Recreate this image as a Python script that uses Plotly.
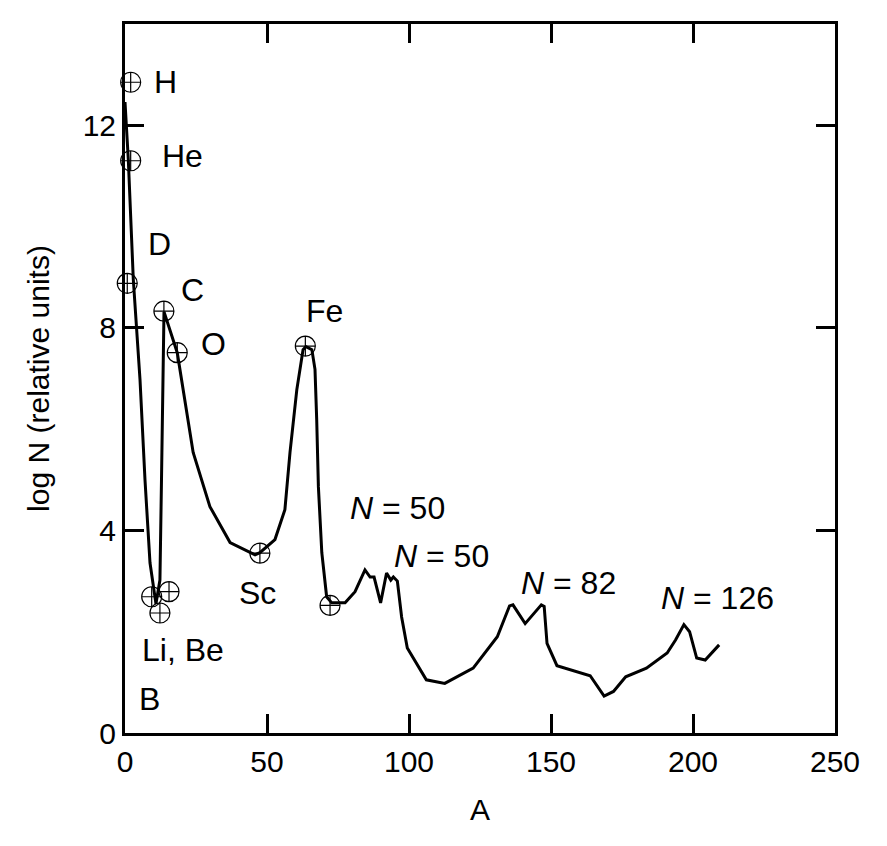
import plotly.graph_objects as go

# Abundance curve (A, log N)
curve_A = [0, 1.16, 2.92, 5.28, 7.04, 8.80, 10.9, 12.3, 12.85, 13.27, 13.73,
           18.4, 24.0, 29.9, 37.0, 45.8, 47.5, 52.8, 56.3, 58.1, 60.5, 62.7,
           63.7, 65.8, 66.9, 67.5, 68.1, 69.3, 71.0, 72.8, 77.5, 81.0, 84.5,
           86.3, 87.7, 90.0, 92.1, 93.6, 94.5, 95.9, 97.4, 99.4, 106.1, 112.6,
           122.6, 131.1, 135.4, 136.6, 140.9, 146.6, 147.6, 148.6, 152.1,
           163.8, 168.7, 172.0, 176.3, 183.6, 190.9, 193.9, 196.8, 198.8,
           201.3, 204.3, 209.2]
curve_logN = [12.46, 11.33, 8.96, 6.98, 5.00, 3.36, 2.55, 3.02, 5.00, 6.98, 8.32,
              7.51, 5.54, 4.47, 3.76, 3.52, 3.56, 3.82, 4.41, 5.54, 6.78, 7.57,
              7.63, 7.57, 7.18, 6.19, 4.86, 3.56, 2.69, 2.57, 2.57, 2.79, 3.22,
              3.08, 3.08, 2.57, 3.16, 3.02, 3.08, 3.00, 2.29, 1.68, 1.05, 0.98,
              1.28, 1.90, 2.51, 2.53, 2.16, 2.53, 2.50, 1.77, 1.33,
              1.13, 0.73, 0.82, 1.11, 1.28, 1.58, 1.84, 2.14, 2.00,
              1.48, 1.44, 1.74]

# Marked nuclides
marker_A = [2.0, 2.0, 0.8, 13.7, 18.4, 63.5, 47.5, 72.2, 9.4, 15.5, 12.3]
marker_logN = [12.85, 11.30, 8.88, 8.33, 7.51, 7.64, 3.55, 2.52, 2.69, 2.79, 2.37]

# Text labels
label_text = ["H", "He", "D", "C", "O", "Fe", "Sc", "Li, Be", "B",
              "<i>N</i> = 50", "<i>N</i> = 50", "<i>N</i> = 82", "<i>N</i> = 126"]
label_A = [14.1, 20.4, 12.0, 23.9, 31.0, 70.1, 46.8, 20.4, 8.8,
           95.8, 111.6, 156.3, 208.8]
label_logN = [12.85, 11.39, 9.65, 8.74, 7.69, 8.34, 2.77, 1.64, 0.67,
              4.45, 3.50, 2.97, 2.67]

x_ticks = [0, 50, 100, 150, 200, 250]
y_ticks = [0, 4, 8, 12]

FONT = "Liberation Sans, Arial, Helvetica, sans-serif"

fig = go.Figure()
fig.add_trace(go.Scatter(
    x=curve_A, y=curve_logN, mode="lines",
    line=dict(color="black", width=3), cliponaxis=False, showlegend=False,
))
fig.add_trace(go.Scatter(
    x=marker_A, y=marker_logN, mode="markers",
    marker=dict(symbol="circle-cross-open", size=20, color="black",
                line=dict(color="black", width=1.2)),
    cliponaxis=False, showlegend=False,
))

for t, xa, ya in zip(label_text, label_A, label_logN):
    fig.add_annotation(x=xa, y=ya, text=t, showarrow=False,
                       xanchor="center", yanchor="middle",
                       font=dict(family=FONT, size=32, color="black"))

axis_common = dict(
    showline=True, linecolor="black", linewidth=3, mirror="ticks",
    ticks="inside", ticklen=19, tickwidth=3, tickcolor="black",
    showgrid=False, zeroline=False,
    tickfont=dict(family=FONT, size=30, color="black"),
)

fig.update_xaxes(range=[0, 250], tickvals=x_ticks,
                 title=dict(text="A", font=dict(family=FONT, size=30, color="black"),
                            standoff=22),
                 **axis_common)
fig.update_yaxes(range=[0, 14], tickvals=y_ticks,
                 title=dict(text="log N (relative units)",
                            font=dict(family=FONT, size=30, color="black"),
                            standoff=25),
                 **axis_common)

fig.update_layout(
    width=879, height=838,
    margin=dict(l=117, r=52, t=16, b=113),
    plot_bgcolor="white", paper_bgcolor="white",
    font=dict(family=FONT, color="black"),
)

fig.write_html("out.html")
